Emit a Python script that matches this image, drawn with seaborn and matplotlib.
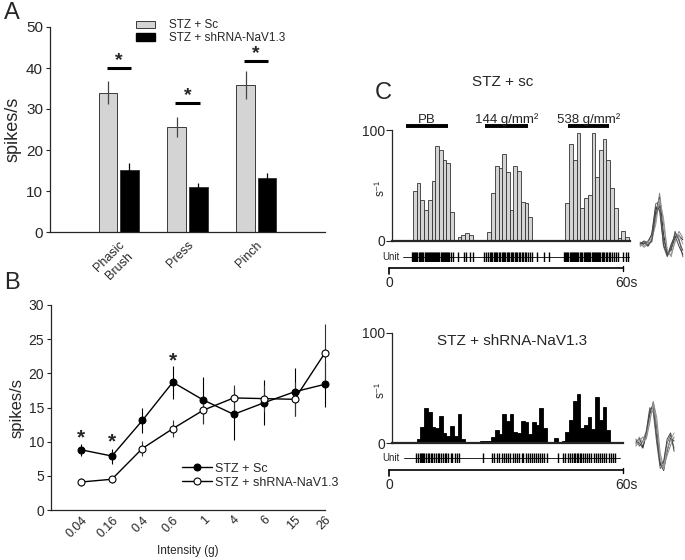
import numpy as np
import pandas as pd
import seaborn as sns
import matplotlib
matplotlib.use('Agg')
import matplotlib.pyplot as plt
from matplotlib.patches import Patch

# ---- panel A: mean firing per stimulus
stimuli = ['Phasic\nBrush', 'Press', 'Pinch']
groups = ['STZ + Sc', 'STZ + shRNA-NaV1.3']
sc_mean = [34.0, 25.6, 35.9]
sc_sem = [2.8, 2.5, 3.4]
sh_mean = [15.1, 10.9, 13.1]
sh_sem = [1.7, 1.0, 1.4]
sig_a = [40.0, 31.5, 41.8]

# ---- panel B: stimulus-response
intensity = ['0.04', '0.16', '0.4', '0.6', '1', '4', '6', '15', '26']
b_sc = [8.8, 7.9, 13.1, 18.7, 16.1, 14.0, 15.7, 17.3, 18.4]
b_sc_err = [0.9, 1.1, 1.8, 2.4, 3.3, 3.8, 3.3, 3.5, 3.3]
b_sh = [4.1, 4.5, 9.0, 11.9, 14.6, 16.4, 16.3, 16.2, 23.0]
b_sh_err = [0.6, 0.5, 1.1, 1.2, 2.0, 1.9, 2.0, 2.5, 4.2]
sig_b = {'0.04': 11.0, '0.16': 10.5, '0.6': 22.3}

# ---- panel C: example units, 1-bin histograms
hist_sc = [0, 0, 0, 0, 0, 0,
           45, 52, 37, 28, 37, 54, 86, 82, 73, 70, 26,
           0, 4, 5, 7.5, 5, 0, 0, 0, 0,
           8, 43, 68, 66, 78, 62, 28, 68, 63, 35, 34, 22, 0.5,
           0, 0, 1, 0, 0, 0, 0,
           1, 34, 87, 73, 97, 30, 39, 41, 97, 58, 82, 92, 73, 48, 30, 3, 9, 4]
hist_sh = [0, 0, 0, 0, 0, 0, 0,
           3.6, 15, 32, 28, 15, 14, 25, 9, 7, 16, 7, 27, 4,
           0, 0, 0, 0,
           2.5, 2.5, 2.5,
           6, 12, 8, 27, 20, 27, 10, 9, 20, 19, 8, 19, 17, 32, 14,
           0, 0,
           5, 0.6, 2, 10, 21, 38, 45, 14, 17, 24, 13, 42, 21, 33, 12,
           0, 0, 0]
unit_sc = [5.7, 6.0, 6.3, 6.6, 6.9, 7.2, 7.5, 7.9, 8.2, 8.4, 8.7, 9.1, 9.5, 9.8,
           10.1, 10.4, 10.6, 10.9, 11.2, 11.5, 11.7, 12.0, 12.3, 12.5, 12.8, 13.1,
           13.4, 13.7, 14.0, 14.3, 14.6, 14.9, 15.2, 15.5, 15.8, 16.2, 16.7,
           18.1, 19.7, 20.2, 21.3, 22.1,
           25.1, 25.6, 26.2, 26.6, 27.0, 27.3, 27.7, 28.0, 28.4, 28.7, 29.1, 29.4,
           29.8, 30.1, 30.5, 30.8, 31.2, 31.6, 31.9, 32.3, 32.6, 33.0, 33.3, 33.7,
           34.0, 34.4, 34.8, 35.2, 35.6, 36.0, 36.5, 37.0, 37.5, 38.0,
           39.3, 41.2, 42.6,
           46.6, 46.9, 47.2, 47.5, 47.8, 48.1, 48.4, 48.7, 49.0, 49.3, 49.6, 49.9,
           50.2, 50.5, 50.8, 51.1, 51.5, 51.9, 52.2, 52.5, 52.8, 53.1, 53.4, 53.7,
           54.0, 54.3, 54.6, 54.9, 55.2, 55.5, 55.8, 56.1, 56.4, 56.7, 57.0, 57.4,
           57.8, 58.2, 58.6, 59.0, 59.6, 60.1, 60.6,
           61.1, 62.5, 63.3, 63.8]
unit_sh = [6.8, 7.3, 7.8, 8.1, 8.4, 8.7, 9.0, 9.4, 9.9, 10.3, 10.8, 11.2, 11.7,
           12.2, 12.6, 13.1, 13.6, 14.1, 14.6, 15.0, 15.5, 16.1, 16.6, 17.2, 17.8, 18.5,
           24.8, 27.2, 27.8, 28.6, 29.1, 30.0, 30.4, 30.9, 31.5, 32.2, 32.8, 33.4,
           34.1, 34.6, 35.2, 35.7, 36.3, 36.9, 37.5, 38.0, 38.6, 39.1, 39.6, 40.2,
           40.7, 41.3, 42.0,
           45.0, 46.3, 46.9, 47.6, 48.2, 48.8, 49.3, 49.7, 50.1, 50.5, 50.9, 51.3,
           51.8, 52.3, 52.8, 53.4, 54.0, 54.6, 55.2, 55.7, 56.2, 56.8, 57.4, 58.0,
           58.7, 59.3, 59.8, 60.3]
stim_labels = ['PB', '144 g/mm²', '538 g/mm²']
stim_on = [4.1, 25.4, 47.6]
stim_off = [15.4, 36.8, 58.8]

# spike waveforms (overlaid sweeps)
wave_sc = [[0, 1, -2, 4, 30, 45, 10, -10, -4, 6, 8, 4],
           [-2, 0, 3, 8, 38, 40, -2, -12, -2, 10, 5, -12],
           [2, -3, 0, 2, 22, 48, 20, -8, -10, 2, 12, 6],
           [0, 3, 1, 10, 35, 32, 0, -11, 0, 8, -2, -10],
           [-1, -2, 2, 5, 18, 42, 25, -6, -12, 4, 9, 0],
           [1, 2, -1, 3, 28, 36, 5, -9, -6, 12, 3, -6]]
wave_sh = [[0, 5, -4, 8, 28, 40, 15, -20, -27, -8, 5, 2],
           [4, -3, 2, 12, 35, 30, 0, -25, -20, 0, 8, -5],
           [-3, 2, 6, 4, 20, 41, 25, -10, -24, -12, -2, 6],
           [2, 0, -5, 10, 32, 36, 5, -22, -18, 4, 10, -8],
           [-2, 6, 0, 6, 24, 38, 18, -15, -26, -6, 3, 10]]

sns.set_style('ticks')
plt.rcParams['font.family'] = ['Liberation Sans', 'DejaVu Sans']
plt.rcParams['axes.linewidth'] = 0.9

W, H = 685, 560
fig = plt.figure(figsize=(W / 100, H / 100), dpi=100)


def rect(l, t, r, b):
    return [l / W, 1 - b / H, (r - l) / W, (b - t) / H]


GRAY = '#d4d4d4'

# ================= A
axA = fig.add_axes(rect(50, 27, 325, 232))
df_a = pd.DataFrame({'stimulus': stimuli * 2,
                     'group': [groups[0]] * 3 + [groups[1]] * 3,
                     'rate': sc_mean + sh_mean})
sns.barplot(data=df_a, x='stimulus', y='rate', hue='group', palette=[GRAY, 'black'],
            width=0.62, gap=0.12, errorbar=None, edgecolor='#3a3a3a', linewidth=0.7,
            legend=False, ax=axA)
for cont, errs, col in zip(axA.containers, [sc_sem, sh_sem], ['#444444', 'black']):
    for bar, e in zip(cont, errs):
        axA.errorbar(bar.get_x() + bar.get_width() / 2, bar.get_height(), yerr=e,
                     fmt='none', ecolor=col, elinewidth=0.9, capsize=0, zorder=1)
for i, y in enumerate(sig_a):
    axA.plot([i - 0.175, i + 0.175], [y, y], color='black', lw=2.2, solid_capstyle='butt')
    axA.text(i, y + 0.6, '*', ha='center', va='baseline', fontsize=14, fontweight='bold')
axA.set_xlim(-1, 3)
axA.set_ylim(0, 50)
axA.set_yticks(range(0, 51, 10))
axA.set_xlabel('')
axA.set_ylabel('spikes/s', fontsize=13, labelpad=3)
axA.tick_params(axis='y', labelsize=11, length=3, pad=2)
axA.tick_params(axis='x', length=0, pad=5)
axA.set_xticks(range(3))
axA.set_xticklabels(stimuli, rotation=45, ha='right', va='top', rotation_mode='anchor',
                    fontsize=9, multialignment='center')
sns.despine(ax=axA)
axA.legend(handles=[Patch(facecolor=GRAY, edgecolor='#3a3a3a', lw=0.7, label=groups[0]),
                    Patch(facecolor='black', edgecolor='black', label=groups[1])],
           loc='upper left', bbox_to_anchor=(0.295, 1.06), frameon=False, fontsize=8.5,
           handlelength=1.6, handleheight=0.6, handletextpad=1.2, labelspacing=0.05,
           borderaxespad=0)

# ================= B
axB = fig.add_axes(rect(51, 305, 325, 510))
pos = list(range(len(intensity)))
axB.errorbar(pos, b_sc, yerr=b_sc_err, fmt='none', ecolor='black', elinewidth=0.8,
             capsize=0, zorder=1, clip_on=False)
axB.errorbar(pos, b_sh, yerr=b_sh_err, fmt='none', ecolor='#333333', elinewidth=0.8,
             capsize=0, zorder=1, clip_on=False)
sns.lineplot(x=pos, y=b_sc, color='black', lw=1, marker='o', markersize=5,
             markerfacecolor='black', markeredgecolor='black', label=groups[0], ax=axB,
             zorder=3, clip_on=False)
sns.lineplot(x=pos, y=b_sh, color='black', lw=1, marker='o', markersize=5,
             markerfacecolor='white', markeredgecolor='black', markeredgewidth=0.8,
             label=groups[1], ax=axB, zorder=3, clip_on=False)
for lab, y in sig_b.items():
    axB.text(intensity.index(lab), y - 1.3, '*', ha='center', va='baseline', fontsize=15, fontweight='bold')
axB.set_xlim(-1, 8)
axB.set_ylim(0, 30)
axB.set_yticks(range(0, 31, 5))
axB.set_xticks(pos)
axB.set_xticklabels(intensity, rotation=45, ha='right', va='top', rotation_mode='anchor', fontsize=9)
axB.tick_params(axis='y', labelsize=10, length=3, pad=2)
axB.tick_params(axis='x', length=0, pad=3)
axB.set_xlabel('Intensity (g)', fontsize=8.5, labelpad=4)
axB.set_ylabel('spikes/s', fontsize=12, labelpad=3)
sns.despine(ax=axB)
axB.legend(loc='upper left', bbox_to_anchor=(0.46, 0.255), frameon=False, fontsize=9,
           handlelength=2.4, handletextpad=0.2, labelspacing=0.15, borderaxespad=0)

# ================= C


def hist_panel(r, counts, face, edge, xmax):
    ax = fig.add_axes(r)
    centers = [i + 0.5 for i in range(len(counts))]
    sns.histplot(x=centers, weights=counts, binwidth=1, binrange=(0, len(counts)),
                 color=face, edgecolor=edge, linewidth=0.6, alpha=1, ax=ax)
    ax.set_xlim(0.35, xmax)
    ax.set_ylim(0, 100)
    ax.set_yticks([0, 100])
    ax.set_xticks([])
    ax.set_ylabel('')
    ax.tick_params(axis='y', labelsize=10, length=4, pad=1)
    ax.spines['bottom'].set_linewidth(1.6)
    sns.despine(ax=ax)
    return ax


def raster(r, spikes, xmax, x0, x1):
    ax = fig.add_axes(r)
    sns.rugplot(x=spikes, height=1, color='black', linewidth=1.0, expand_margins=False, ax=ax)
    ax.plot([x0, x1], [0.5, 0.5], color='black', lw=0.6)
    ax.text(2.3, 0.5, 'Unit', ha='right', va='center', fontsize=7)
    ax.set_xlim(0.35, xmax)
    ax.set_ylim(0, 1)
    ax.axis('off')
    return ax


def scalebar(r):
    ax = fig.add_axes(r)
    ax.plot([0, 60], [0, 0], color='black', lw=1.2, clip_on=False)
    ax.plot([0, 0], [0, -0.25], color='black', lw=1.2, clip_on=False)
    ax.plot([60, 60], [0.1, -0.15], color='black', lw=1.0, clip_on=False)
    ax.text(0, -0.68, '0', ha='center', va='center', fontsize=10)
    ax.text(58.0, -0.68, '60s', ha='left', va='center', fontsize=10)
    ax.set_xlim(0, 60)
    ax.set_ylim(-1, 0)
    ax.axis('off')


def waves(r, traces):
    ax = fig.add_axes(r)
    df_w = pd.DataFrame({'sample': [i for t in traces for i in range(len(t))],
                         'v': [v for t in traces for v in t],
                         'sweep': [k for k, t in enumerate(traces) for _ in t]})
    sns.lineplot(data=df_w, x='sample', y='v', hue='sweep', estimator=None, legend=False,
                 palette=['#222222', '#666666', '#888888', '#444444', '#999999', '#555555'][:len(traces)],
                 lw=0.7, ax=ax)
    ax.axis('off')


axC1 = hist_panel(rect(392, 130, 630, 241), hist_sc, GRAY, '#333333', 64.35)
for lab, a, b in zip(stim_labels, stim_on, stim_off):
    axC1.plot([a, b], [104, 104], color='black', lw=2.8, clip_on=False, solid_capstyle='butt')
    axC1.text((a + b) / 2, 106.5, lab, ha='center', va='baseline', fontsize=9.5)
raster(rect(392, 252, 630, 262), unit_sc, 64.35, 3.3, 64.3)
scalebar(rect(389, 268, 623, 290))
waves(rect(638, 190, 685, 260), wave_sc)

axC2 = hist_panel(rect(392, 333, 622.7, 443.3), hist_sh, 'black', 'black', 62.4)
raster(rect(392, 453, 622.7, 463), unit_sh, 62.4, 3.6, 61.6)
scalebar(rect(389, 470, 623, 492))
waves(rect(634, 398, 676, 474), wave_sh)

fig.text(503 / W, 1 - 82 / H, 'STZ + sc', ha='center', va='center', fontsize=11)
fig.text(512 / W, 1 - 341 / H, 'STZ + shRNA-NaV1.3', ha='center', va='center', fontsize=11)
fig.text(381 / W, 1 - 188 / H, 's⁻¹', rotation=90, ha='center', va='center', fontsize=8.5)
fig.text(381 / W, 1 - 390 / H, 's⁻¹', rotation=90, ha='center', va='center', fontsize=8.5)

for lab, x, y in [('A', 12, 13), ('B', 12, 283), ('C', 383, 93)]:
    fig.text(x / W, 1 - y / H, lab, ha='center', va='center', fontsize=17)

fig.savefig('out.png', dpi=100)
